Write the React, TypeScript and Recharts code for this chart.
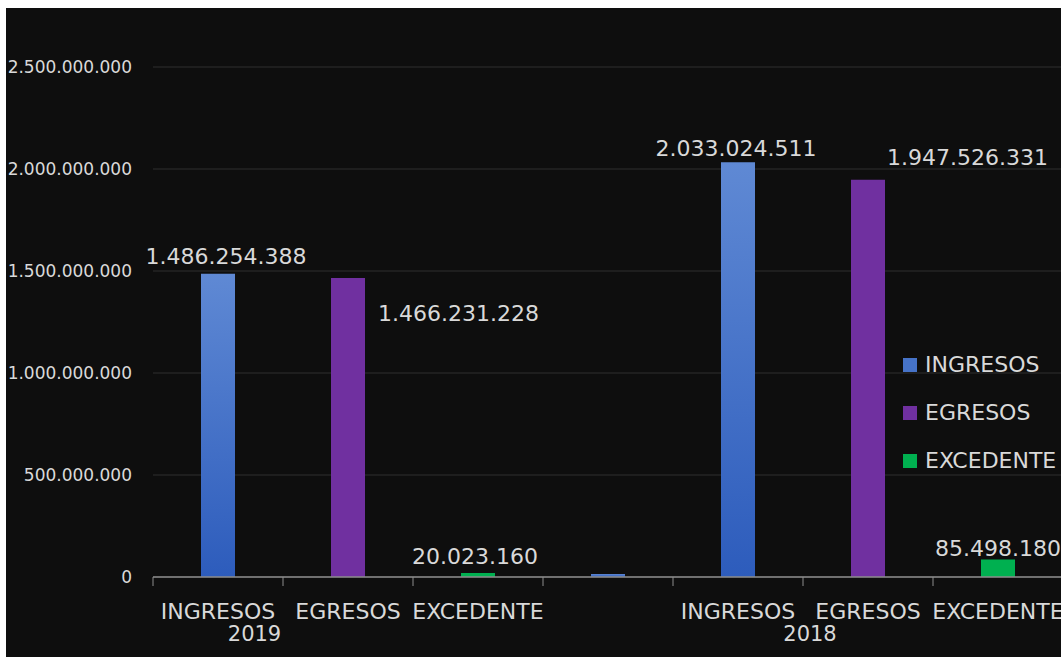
import React from 'react';
import { BarChart, Bar, XAxis, YAxis, CartesianGrid, Legend, LabelList } from 'recharts';

// ---- data ----
const categories = ['INGRESOS', 'EGRESOS', 'EXCEDENTE', '', 'INGRESOS', 'EGRESOS', 'EXCEDENTE'];
const years = ['2019', '', '', '', '2018', '', ''];
const ingresos: (number | null)[] = [1486254388, null, null, 15000000, 2033024511, null, null];
const egresos: (number | null)[] = [null, 1466231228, null, null, null, 1947526331, null];
const excedente: (number | null)[] = [null, null, 20023160, null, null, null, 85498180];
const yTicks = [0, 500000000, 1000000000, 1500000000, 2000000000, 2500000000];
const seriesNames = ['INGRESOS', 'EGRESOS', 'EXCEDENTE'];
const seriesKeys = ['ingresos', 'egresos', 'excedente'];
const seriesValues = [ingresos, egresos, excedente];

// ---- style ----
const FONT = 'DejaVu Sans';
const TEXT = '#d9d9d9';
const AXIS = '#8c8c8c';
const GRID = '#2f2f2f';
const BG = '#0e0e0e';
const seriesColors = ['#4673c8', '#7030a0', '#00b050'];
const seriesFills = ['url(#gIng)', '#7030a0', '#00b050'];

const CHART_W = 1070;
const CHART_H = 649;
const MARGIN = { top: 59, right: 13, bottom: 10, left: 0 };
const Y_W = 147;
const PLOT_LEFT = MARGIN.left + Y_W;
const BAND = (CHART_W - MARGIN.left - MARGIN.right - Y_W) / categories.length;
const YEAR_DX: Record<number, number> = { 0: 36.5, 4: 72 };

// label placement per category index
const LABEL_PLACE: Record<number, { mode: 'top' | 'right'; dx: number; dy: number }> = {
  0: { mode: 'top', dx: 8, dy: -10 },
  1: { mode: 'right', dx: 13, dy: 43 },
  2: { mode: 'top', dx: -3, dy: -9 },
  4: { mode: 'top', dx: -2, dy: -6 },
  5: { mode: 'right', dx: 2, dy: -15 },
  6: { mode: 'top', dx: 0, dy: -4 },
};

const data = categories.map((c, i) => ({
  key: `${c}-${i}`,
  ingresos: ingresos[i],
  egresos: egresos[i],
  excedente: excedente[i],
}));

const fmt = (n: number) => Math.round(n).toString().replace(/\B(?=(\d{3})+(?!\d))/g, '.');

const makeLabel = (series: (number | null)[]) => (props: any) => {
  const vb = props.viewBox || {};
  const x = Number(props.x ?? vb.x);
  const y = Number(props.y ?? vb.y);
  const w = Number(props.width ?? vb.width);
  const h = Number(props.height ?? vb.height);
  if (!isFinite(x) || !isFinite(w)) return null;
  const idx = Math.floor((x + w / 2 - PLOT_LEFT) / BAND);
  const v = series[idx];
  const place = LABEL_PLACE[idx];
  if (v == null || !place) return null;
  const top = h < 0 ? y + h : y;
  if (place.mode === 'top') {
    return (
      <text x={x + w / 2 + place.dx} y={top + place.dy} textAnchor="middle" fill={TEXT}
        fontFamily={FONT} fontSize={22}>{fmt(v)}</text>
    );
  }
  return (
    <text x={x + w + place.dx} y={top + place.dy} textAnchor="start" fill={TEXT}
      fontFamily={FONT} fontSize={22}>{fmt(v)}</text>
  );
};

const XTick = (props: any) => {
  const { x, y, payload } = props;
  const i = payload?.index ?? props.index ?? 0;
  const left = x - BAND / 2;
  return (
    <g>
      <line x1={left} y1={y} x2={left} y2={y + 9} stroke={AXIS} strokeWidth={1} />
      {i === categories.length - 1 && (
        <line x1={x + BAND / 2} y1={y} x2={x + BAND / 2} y2={y + 9} stroke={AXIS} strokeWidth={1} />
      )}
      <text x={x} y={y + 42} textAnchor="middle" fill={TEXT} fontFamily={FONT} fontSize={22}>
        {categories[i]}
      </text>
      {years[i] ? (
        <text x={x + (YEAR_DX[i] ?? 0)} y={y + 64} textAnchor="middle" fill={TEXT} fontFamily={FONT} fontSize={21}>
          {years[i]}
        </text>
      ) : null}
    </g>
  );
};

const renderLegend = () => (
  <div style={{ fontFamily: FONT, fontSize: 22, color: TEXT }}>
    {seriesNames.map((n, i) => (
      <div key={n} style={{ height: 48, display: 'flex', alignItems: 'center', whiteSpace: 'nowrap' }}>
        <span style={{ width: 14, height: 14, background: seriesColors[i], marginRight: 8, display: 'inline-block' }} />
        <span style={{ lineHeight: '22px' }}>{n}</span>
      </div>
    ))}
  </div>
);

export default function App() {
  return (
    <div style={{ position: 'absolute', left: 6, top: 8, width: 1055, height: CHART_H, overflow: 'hidden', background: BG }}>
      <BarChart width={CHART_W} height={CHART_H} data={data} margin={MARGIN} barSize={34}>
        <defs>
          <linearGradient id="gIng" x1="0" y1="0" x2="0" y2="1">
            <stop offset="0%" stopColor="#5f89d4" />
            <stop offset="100%" stopColor="#2d5cbc" />
          </linearGradient>
        </defs>
        <CartesianGrid horizontal vertical={false} stroke={GRID} />
        <XAxis
          dataKey="key"
          height={70}
          interval={0}
          tickLine={false}
          tickSize={0}
          tickMargin={0}
          axisLine={{ stroke: AXIS, strokeWidth: 1.5 }}
          tick={<XTick />}
        />
        <YAxis
          width={Y_W}
          domain={[0, 2500000000]}
          ticks={yTicks}
          tickFormatter={fmt}
          axisLine={false}
          tickLine={false}
          tickSize={0}
          tickMargin={21}
          tick={{ fill: TEXT, fontSize: 17, fontFamily: FONT }}
        />
        <Legend
          layout="vertical"
          align="center"
          verticalAlign="middle"
          content={renderLegend}
          wrapperStyle={{ left: 897, top: 333, width: 200, height: 144 }}
        />
        {seriesKeys.map((k, si) => (
          <Bar key={k} dataKey={k} name={seriesNames[si]} stackId="s" fill={seriesFills[si]} isAnimationActive={false}>
            <LabelList dataKey={k} content={makeLabel(seriesValues[si])} />
          </Bar>
        ))}
      </BarChart>
    </div>
  );
}
